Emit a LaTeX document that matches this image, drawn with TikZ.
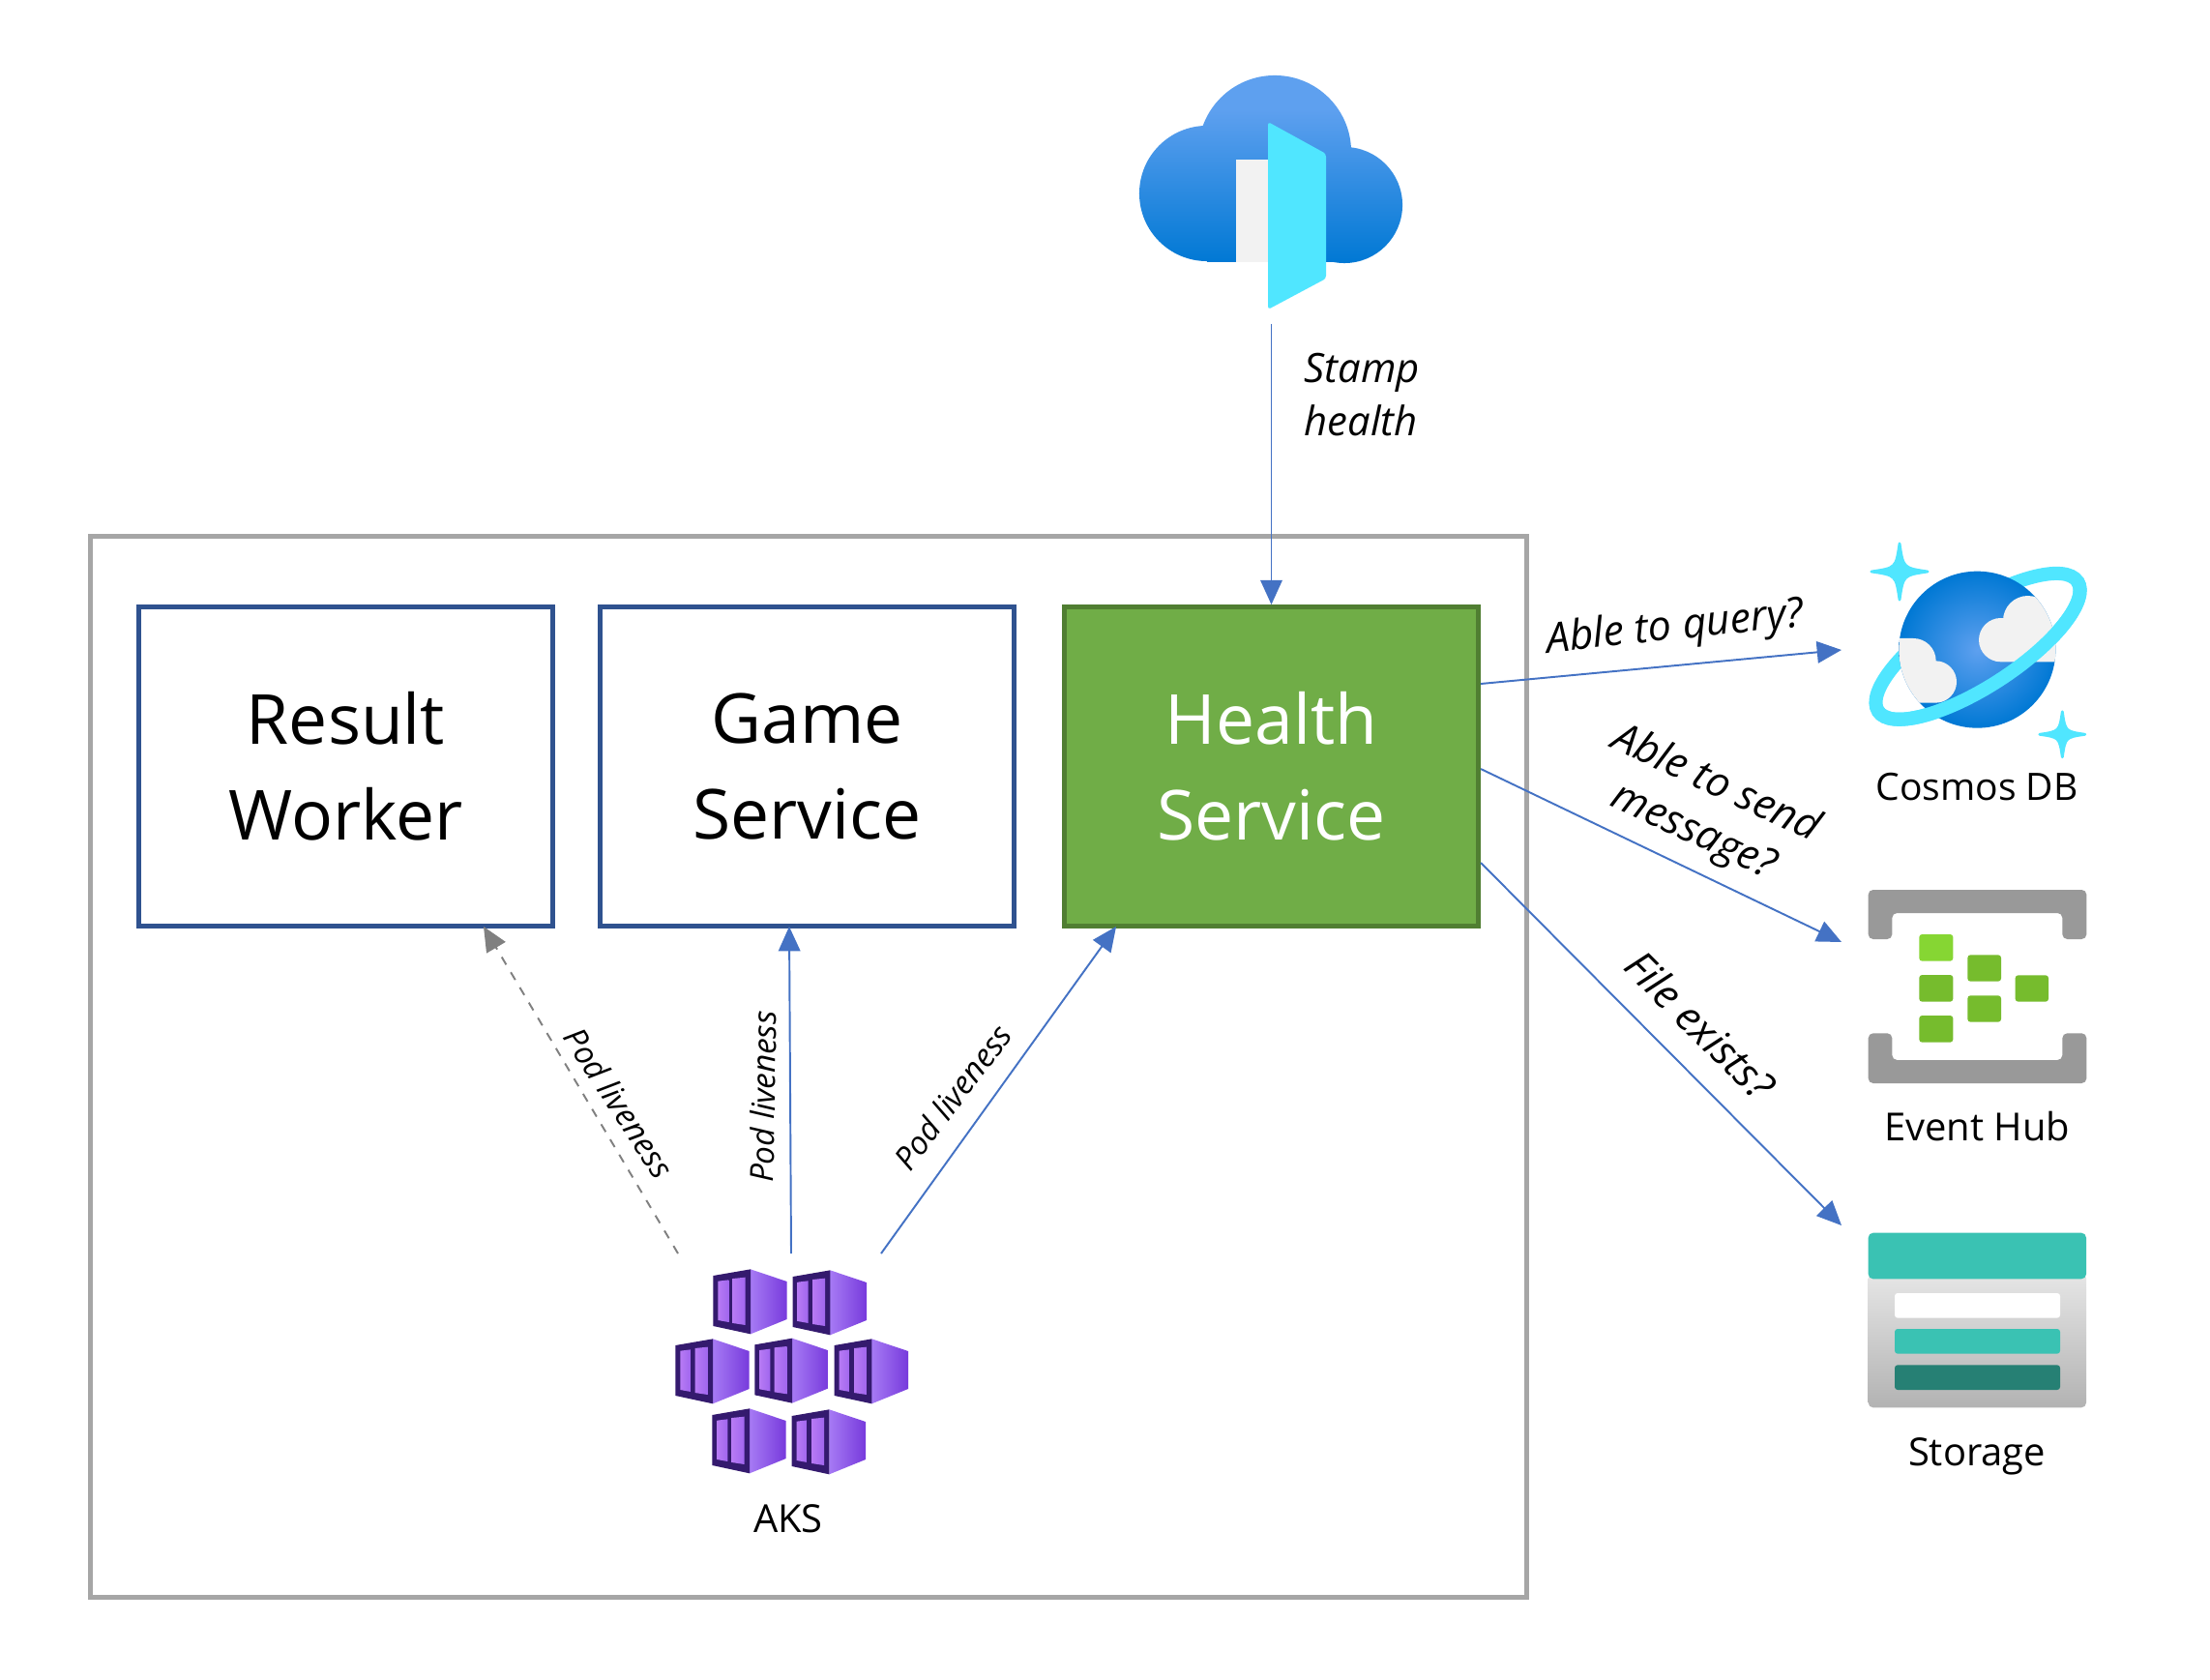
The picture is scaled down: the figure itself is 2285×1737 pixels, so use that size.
\documentclass[tikz,border=0pt]{standalone}
\usepackage{fontspec}
\setmainfont{Open Sans}
\usetikzlibrary{arrows.meta}
\definecolor{arrowblue}{HTML}{4472C4}
\definecolor{framegray}{HTML}{A6A6A6}
\definecolor{boxblue}{HTML}{2F528F}
\definecolor{hsgreen}{HTML}{70AD47}
\definecolor{hsborder}{HTML}{507E32}
\definecolor{azlight}{HTML}{5EA0EF}
\definecolor{azdark}{HTML}{0078D4}
\definecolor{azcyan}{HTML}{50E6FF}
\definecolor{cloudwhite}{HTML}{F2F2F2}
\definecolor{hubgray}{HTML}{999999}
\definecolor{hublime}{HTML}{86D633}
\definecolor{hubgreen}{HTML}{76BC2D}
\definecolor{stteal}{HTML}{3AC2B3}
\definecolor{stdark}{HTML}{268074}
\definecolor{akdark}{HTML}{341A6E}
\definecolor{akside}{HTML}{A67AF4}
\definecolor{akside2}{HTML}{773ADC}
\definecolor{akwin}{HTML}{B77AF4}
\definecolor{akwin2}{HTML}{A066EE}
\definecolor{deadgray}{HTML}{808080}
\pgfdeclareverticalshading{cloudsh}{100bp}{color(0bp)=(azdark); color(25bp)=(azdark); color(66bp)=(azlight); color(100bp)=(azlight)}
\def\zu{0.01cm}
\newcommand{\sparklestar}[3]{%
  \begin{scope}[shift={(#1,#2)},scale=#3]
    \fill[azcyan,draw=azcyan,line width=0.8pt,line join=round]
      (0,-0.94) .. controls (0.12,-0.12) and (0.12,-0.12) .. (0.94,0)
      .. controls (0.12,0.12) and (0.12,0.12) .. (0,0.94)
      .. controls (-0.12,0.12) and (-0.12,0.12) .. (-0.94,0)
      .. controls (-0.12,-0.12) and (-0.12,-0.12) .. cycle;
  \end{scope}}
\newcommand{\akscontainer}[2]{%
  \begin{scope}[shift={(#1,#2)}]
    \shade[left color=akside,right color=akside2] (116,0) -- (229,38) -- (229,155) -- (116,201) -- cycle;
    \fill[akdark] (0,20) -- (116,0) -- (116,201) -- (0,176) -- cycle;
    \shade[left color=akwin,right color=akwin2] (15,37) -- (48,33) -- (48,164) -- (15,158) -- cycle;
    \shade[left color=akwin,right color=akwin2] (61,29) -- (100,25) -- (100,173) -- (61,167) -- cycle;
  \end{scope}}
\tikzset{
  svcbox/.style={rectangle,draw=boxblue,line width=1.3pt,minimum width=4.275cm,minimum height=3.30cm,
    align=center,inner sep=0pt,font=\fontsize{20.3}{28.2}\selectfont},
  flow/.style={draw=arrowblue,line width=0.55pt,-{Triangle[length=7.2pt,width=6.4pt,fill=arrowblue]}},
  deadflow/.style={draw=deadgray,line width=0.55pt,dash pattern=on 2.6pt off 2.6pt,-{Triangle[length=7.2pt,width=6.4pt,fill=deadgray]}},
  lbl/.style={inner sep=0pt,align=center,font=\fontsize{11.35}{15.2}\selectfont},
  ilbl/.style={inner sep=0pt,align=center,font=\fontsize{12.2}{15.6}\selectfont\itshape},
  podlbl/.style={inner sep=0pt,font=\fontsize{9.4}{11}\selectfont\itshape},
  grayp/.style={fill=hubgray,rounded corners=0.05cm},
  hubsq/.style={fill=hubgreen,rounded corners=0.03cm},
  stbar/.style={rounded corners=0.03cm},
}
\begin{document}
\begin{tikzpicture}[x=0.01cm,y=-0.01cm]
\useasboundingbox (0,0) rectangle (2285,1737);
\fill[white] (0,0) rectangle (2285,1737);

% stamp frame
\node[draw=framegray,line width=1.35pt,minimum width=14.84cm,minimum height=10.96cm,inner sep=0pt] (stamp) at (836,1103) {};

% service boxes
\node[svcbox] (result) at (357.5,792.5) {Result\\Worker};
\node[svcbox] (game) at (834.5,792.5) {Game\\Service};
\node[svcbox,fill=hsgreen,draw=hsborder,text=white] (health) at (1314.5,792.5) {Health\\Service};

% cloud icon
\shade[shading=cloudsh]
  (1248,200) circle [radius=0.70cm]
  (1318,157) circle [radius=0.79cm]
  (1390,212) circle [radius=0.60cm]
  (1248,271) -- (1390,271) -- (1390,157) -- (1248,157) -- cycle;
\fill[cloudwhite] (1278,165) rectangle (1311,271);
\fill[azcyan,rounded corners=0.03cm] (1311,126) -- (1371,159) -- (1371,288) -- (1311,320) -- cycle;

% Cosmos DB icon
\begin{scope}[shift={(1900,540)},scale=1/3]
  \draw[azcyan,line width=4pt,rotate around={33:(435,385)}] (435,385) ellipse [x radius=369*\zu,y radius=124*\zu];
  \shade[inner color=azlight,outer color=azdark] (433,395) circle [radius=243*\zu];
  \begin{scope}
    \clip (433,395) circle [radius=243*\zu];
    \fill[cloudwhite]
      (590,305) circle [radius=77*\zu]
      (506,365) circle [radius=68*\zu]
      (506,433) -- (690,433) -- (690,300) -- (506,300) -- cycle
      (235,430) circle [radius=70*\zu]
      (304,495) circle [radius=65*\zu]
      (180,560) -- (304,560) -- (304,430) -- (180,430) -- cycle
      (180,430) -- (235,430) -- (235,360) -- (180,360) -- cycle;
  \end{scope}
  \begin{scope}
    \clip (-165,775) -- (1035,-5) -- (1035,900) -- (-165,900) -- cycle;
    \draw[azcyan,line width=4pt,rotate around={33:(435,385)}] (435,385) ellipse [x radius=369*\zu,y radius=124*\zu];
  \end{scope}
\end{scope}
\sparklestar{1964}{591}{31}
\sparklestar{2132.3}{759.3}{25}
\node[lbl,font=\fontsize{11.1}{15.2}\selectfont] (cosmoslbl) at (2044,814) {Cosmos DB};

% Event Hub icon
\begin{scope}[shift={(1900,900)},scale=1/3]
  \fill[grayp] (95,60) -- (772,60) -- (772,213) -- (697,213) -- (697,132) -- (169,132) -- (169,213) -- (95,213) -- cycle;
  \fill[grayp] (95,505) -- (169,505) -- (169,588) -- (697,588) -- (697,505) -- (772,505) -- (772,660) -- (95,660) -- cycle;
  \fill[hubsq,fill=hublime] (253,198) rectangle (358,281);
  \fill[hubsq] (253,324) rectangle (358,407);
  \fill[hubsq] (253,450) rectangle (358,533);
  \fill[hubsq] (403,262) rectangle (507,344);
  \fill[hubsq] (403,388) rectangle (507,470);
  \fill[hubsq] (551,325) rectangle (654,407);
\end{scope}
\node[lbl] (hublbl) at (2044,1165) {Event Hub};

% Storage icon
\begin{scope}[shift={(1900,1260)},scale=1/3]
  \shade[top color=black!10,bottom color=black!30,rounded corners=0.05cm] (95,170) -- (771,170) -- (771,586) -- (95,586) -- cycle;
  \fill[stteal,rounded corners=0.05cm] (95,187) -- (95,44) -- (771,44) -- (771,187) -- cycle;
  \fill[stbar,white] (177,231) rectangle (690,308);
  \fill[stbar,stteal] (177,342) rectangle (690,419);
  \fill[stbar,stdark] (177,454) rectangle (690,531);
\end{scope}
\node[lbl] (storagelbl) at (2044,1506) {Storage};

% AKS icon
\begin{scope}[shift={(680,1290)},scale=1/3]
  \akscontainer{172}{67}
  \akscontainer{419}{70}
  \akscontainer{55}{283}
  \akscontainer{301}{281}
  \akscontainer{548}{283}
  \akscontainer{169}{499}
  \akscontainer{416}{502}
\end{scope}
\node[lbl] (akslbl) at (815,1570) {AKS};

% connector ends
\coordinate (stampsrc) at (1314.5,335);
\coordinate (queryfrom) at (1531,707);
\coordinate (queryto) at (1904,672);
\coordinate (sendfrom) at (1531,795);
\coordinate (sendto) at (1904,974);
\coordinate (filefrom) at (1531,892);
\coordinate (fileto) at (1904,1267);
\coordinate (akstoresult) at (701,1296);
\coordinate (akstogame) at (818,1296);
\coordinate (akstohealth) at (911,1296);
\coordinate (resultin) at (500,958);
\coordinate (gamein) at (816,958);
\coordinate (healthin) at (1154,958);

\draw[flow] (stampsrc) -- (health.north);
\draw[flow] (queryfrom) -- (queryto);
\draw[flow] (sendfrom) -- (sendto);
\draw[flow] (filefrom) -- (fileto);
\draw[deadflow] (akstoresult) -- (resultin);
\draw[flow] (akstogame) -- (gamein);
\draw[flow] (akstohealth) -- (healthin);

% connector labels
\node[ilbl,align=left,anchor=west,font=\fontsize{11.9}{15.4}\selectfont\itshape] (stamplbl) at (1348,408) {Stamp\\health};
\node[ilbl,rotate=6] (querylbl) at (1732,650) {Able to query?};
\node[ilbl,rotate=-25] (sendlbl) at (1762,836) {Able to send\\message?};
\node[ilbl,rotate=-45] (filelbl) at (1758,1060) {File exists?};
\node[podlbl,rotate=-57] (podleft) at (640,1140) {Pod liveness};
\node[podlbl,rotate=89] (podmid) at (789,1134) {Pod liveness};
\node[podlbl,rotate=53] (podright) at (985,1134) {Pod liveness};
\end{tikzpicture}
\end{document}
